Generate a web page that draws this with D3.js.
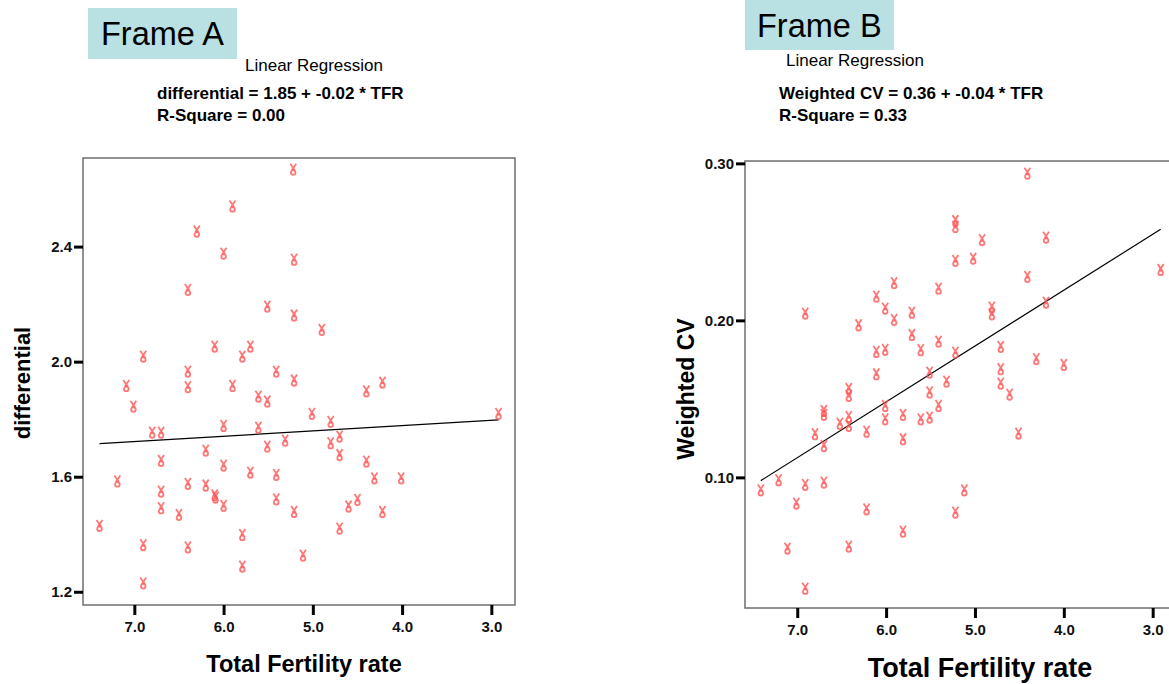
<!DOCTYPE html>
<html>
<head>
<meta charset="utf-8">
<script src="https://cdn.jsdelivr.net/npm/d3@7"></script>
<style>
  body { margin: 0; background: #fff; }
  svg { display: block; font-family: "Liberation Sans", Arial, sans-serif; }
</style>
</head>
<body>
<svg id="chart" width="1169" height="684"></svg>
<script>
// Frame A: differential vs total fertility rate
const tfrA = [5.22, 5.90, 6.30, 6.00, 5.21, 6.40, 5.51, 5.21, 4.90, 6.10, 5.70, 6.90, 5.79, 6.40, 5.41,
  7.09, 6.40, 5.90, 5.21, 5.61, 5.51, 7.01, 4.22, 4.40, 5.01, 4.80, 2.92, 6.80, 6.70, 6.00,
  5.61, 5.31, 5.51, 6.20, 4.80, 4.70, 4.70, 4.40, 6.70, 6.00, 5.70, 5.41, 4.31, 4.01, 7.19,
  6.40, 6.20, 6.70, 6.10, 6.09, 5.41, 4.50, 4.60, 4.22, 5.21, 6.70, 6.00, 6.50, 7.39, 5.79,
  6.90, 6.40, 4.70, 5.79, 5.11, 6.90];
const diffA = [2.667, 2.539, 2.452, 2.375, 2.354, 2.249, 2.191, 2.160, 2.110, 2.052, 2.052, 2.017, 2.017, 1.965, 1.965,
  1.915, 1.911, 1.915, 1.934, 1.878, 1.861, 1.843, 1.927, 1.896, 1.818, 1.790, 1.818, 1.753, 1.753, 1.776,
  1.770, 1.725, 1.704, 1.690, 1.716, 1.739, 1.675, 1.652, 1.655, 1.638, 1.614, 1.606, 1.594, 1.594, 1.583,
  1.575, 1.569, 1.548, 1.535, 1.527, 1.521, 1.519, 1.496, 1.477, 1.477, 1.490, 1.498, 1.467, 1.429, 1.397,
  1.362, 1.354, 1.419, 1.287, 1.325, 1.229];
const coefA = [1.851, -0.0184];   // intercept, slope

// Frame B: weighted CV vs total fertility rate
const tfrB = [6.91, 6.31, 6.11, 5.91, 6.01, 5.91, 5.71, 5.71, 6.11, 6.01, 5.61, 6.11, 6.42, 6.42, 6.70,
  6.70, 6.52, 6.42, 6.42, 6.01, 6.01, 5.81, 5.61, 5.51, 6.80, 6.22, 5.81, 6.70, 7.21, 6.91,
  6.70, 7.41, 7.01, 6.22, 5.81, 7.11, 6.42, 6.91, 4.41, 5.22, 5.22, 4.92, 4.20, 5.22, 5.02,
  4.41, 2.91, 5.41, 4.20, 4.81, 4.81, 5.41, 5.22, 4.71, 4.31, 4.00, 4.71, 5.51, 5.32, 4.71,
  5.51, 4.61, 5.41, 4.51, 5.12, 5.22];
const cvB = [0.2042, 0.1968, 0.2150, 0.2236, 0.2074, 0.2002, 0.2048, 0.1906, 0.1798, 0.1811, 0.1809, 0.1656, 0.1562, 0.1518, 0.1422,
  0.1397, 0.1341, 0.1384, 0.1327, 0.1454, 0.1369, 0.1397, 0.1369, 0.1380, 0.1274, 0.1290, 0.1242, 0.1199, 0.0981, 0.0951,
  0.0966, 0.0917, 0.0832, 0.0796, 0.0654, 0.0545, 0.0558, 0.0290, 0.2934, 0.2632, 0.2594, 0.2510, 0.2526, 0.2378, 0.2392,
  0.2276, 0.2320, 0.2201, 0.2112, 0.2080, 0.2038, 0.1864, 0.1794, 0.1830, 0.1752, 0.1715, 0.1688, 0.1666, 0.1609, 0.1596,
  0.1540, 0.1526, 0.1454, 0.1278, 0.0917, 0.0775];
const coefB = [0.3615, -0.03557];

const tfrTicks = [7, 6, 5, 4, 3];
const yTicksA = [1.2, 1.6, 2.0, 2.4];
const yTicksB = [0.10, 0.20, 0.30];

const svg = d3.select('#chart');

function drawFrame(cfg) {
  let x = d3.scaleLinear().domain(cfg.xDomain).range([cfg.left, cfg.right]);
  let y = d3.scaleLinear().domain(cfg.yDomain).range([cfg.bottom, cfg.top]);

  // header
  svg.append('rect')
    .attr('x', cfg.tag.x).attr('y', cfg.tag.y)
    .attr('width', 149).attr('height', cfg.tag.h)
    .attr('fill', '#b9e0e2');
  svg.append('text')
    .attr('x', cfg.tag.x + cfg.tag.tx).attr('y', cfg.tag.base)
    .attr('font-size', 32.5)
    .text(cfg.name);
  svg.append('text')
    .attr('x', cfg.head.lx).attr('y', cfg.head.ly)
    .attr('font-size', 17)
    .text('Linear Regression');
  svg.append('text')
    .attr('x', cfg.head.ex).attr('y', 99)
    .attr('font-size', 17).attr('font-weight', 'bold')
    .text(cfg.equation);
  svg.append('text')
    .attr('x', cfg.head.ex).attr('y', 121)
    .attr('font-size', 17).attr('font-weight', 'bold')
    .text(cfg.rsq);

  // frame
  svg.append('rect')
    .attr('x', cfg.left).attr('y', cfg.top)
    .attr('width', cfg.right - cfg.left).attr('height', cfg.bottom - cfg.top)
    .attr('fill', 'none').attr('stroke', '#6e6e6e').attr('stroke-width', 1.5);

  let yAxis = d3.axisLeft(y).tickValues(cfg.yTicks).tickFormat(cfg.yFormat)
    .tickSize(9).tickPadding(2);
  let gy = svg.append('g').attr('transform', `translate(${cfg.left},0)`).call(yAxis);
  let xAxis = d3.axisBottom(x).tickValues(tfrTicks).tickFormat(d3.format('.1f'))
    .tickSize(10).tickPadding(6);
  let gx = svg.append('g').attr('transform', `translate(0,${cfg.bottom})`).call(xAxis);

  [gx, gy].forEach(g => {
    g.attr('font-size', 15).attr('font-family', '"Liberation Sans", Arial, sans-serif');
    g.select('.domain').remove();
    g.selectAll('.tick line').attr('stroke', '#000').attr('stroke-width', 3);
    g.selectAll('.tick text')
      .style('font-size', '15px').style('font-weight', 'bold').attr('fill', '#111');
  });

  // axis titles
  svg.append('text')
    .attr('transform', `translate(${cfg.ytitle.x},${cfg.ytitle.y}) rotate(-90)`)
    .attr('text-anchor', 'middle')
    .attr('font-size', cfg.ytitle.size).attr('font-weight', 'bold')
    .text(cfg.yLabel);
  svg.append('text')
    .attr('x', cfg.xtitle.x).attr('y', cfg.xtitle.y)
    .attr('text-anchor', 'middle')
    .attr('font-size', cfg.xtitle.size).attr('font-weight', 'bold')
    .text('Total Fertility rate');

  // regression line
  let ext = d3.extent(cfg.xs);
  let fit = ext.map(t => [t, cfg.coef[0] + cfg.coef[1] * t]);
  svg.append('path')
    .datum(fit)
    .attr('d', d3.line().x(d => x(d[0])).y(d => y(d[1])))
    .attr('fill', 'none').attr('stroke', '#000').attr('stroke-width', 1.2);

  // markers
  let pts = cfg.xs.map((t, i) => [t, cfg.ys[i]]);
  let m = svg.append('g').selectAll('g.pt')
    .data(pts)
    .join('g')
    .attr('class', 'pt')
    .attr('transform', d => `translate(${x(d[0])},${y(d[1])})`)
    .attr('fill', 'none').attr('stroke', '#ff5555').attr('stroke-width', 1.8)
    .attr('stroke-opacity', 0.8);
  m.append('path').attr('d', 'M-3,-6L1.5,0.5M3,-6L-1.5,0.5');
  m.append('circle').attr('cx', 0).attr('cy', 2.8).attr('r', 2.3);
}

drawFrame({
  name: 'Frame A',
  tag: { x: 88, y: 8, h: 51, tx: 13, base: 45 },
  head: { lx: 245, ly: 71, ex: 157 },
  equation: 'differential = 1.85 + -0.02 * TFR',
  rsq: 'R-Square = 0.00',
  left: 83, right: 515, top: 158, bottom: 605,
  xDomain: [7.575, 2.735], yDomain: [1.154, 2.708],
  yTicks: yTicksA, yFormat: d3.format('.1f'),
  yLabel: 'differential', ytitle: { x: 30, y: 383, size: 22 },
  xtitle: { x: 304, y: 672, size: 23.5 },
  xs: tfrA, ys: diffA, coef: coefA
});

drawFrame({
  name: 'Frame B',
  tag: { x: 745, y: 0, h: 50, tx: 12, base: 37 },
  head: { lx: 786, ly: 66, ex: 779 },
  equation: 'Weighted CV = 0.36 + -0.04 * TFR',
  rsq: 'R-Square = 0.33',
  left: 745, right: 1182, top: 161, bottom: 608,
  xDomain: [7.588, 2.67], yDomain: [0.0168, 0.3015],
  yTicks: yTicksB, yFormat: d3.format('.2f'),
  yLabel: 'Weighted CV', ytitle: { x: 694, y: 389, size: 23 },
  xtitle: { x: 980, y: 677, size: 27 },
  xs: tfrB, ys: cvB, coef: coefB
});
</script>
</body>
</html>
